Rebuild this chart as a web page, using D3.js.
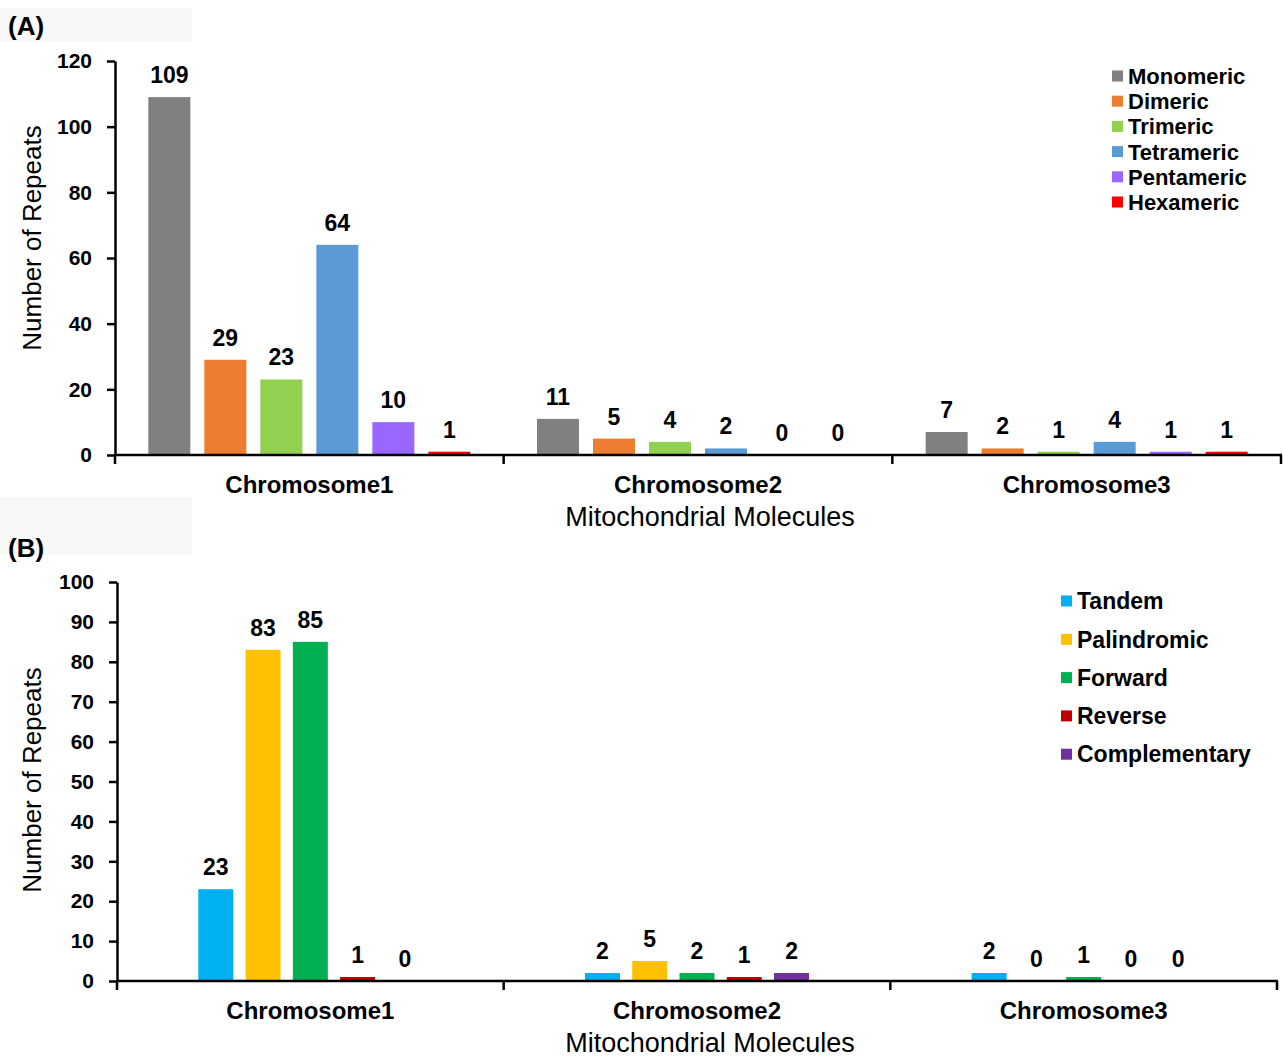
<!DOCTYPE html>
<html lang="en">
  <head>
    <meta charset="utf-8">
    <title>Repeats in mitochondrial molecules</title>
    <style>
      body { margin: 0; background: #fff; }
      svg text { font-family: "Liberation Sans", Arial, sans-serif; fill: #000; }
      text.bold { font-weight: bold; }
    </style>
    <script src="https://cdn.jsdelivr.net/npm/d3@7"></script>
  </head>
  <body>
    <svg id="chart" width="1283" height="1060"></svg>
    <script>

// ############################  data  ############################
var molecules = ["Chromosome1", "Chromosome2", "Chromosome3"];

// panel A: repeat unit size
var unitTypes  = ["Monomeric", "Dimeric", "Trimeric", "Tetrameric", "Pentameric", "Hexameric"];
var unitColors = ["#808080", "#ed7d31", "#92d050", "#5b9bd5", "#9966ff", "#ff0000"];
var unitCounts = [
  [109, 29, 23, 64, 10, 1],   // Chromosome1
  [11, 5, 4, 2, 0, 0],        // Chromosome2
  [7, 2, 1, 4, 1, 1]          // Chromosome3
];
var unitTicks = [0, 20, 40, 60, 80, 100, 120];

// panel B: repeat kind
var repeatTypes  = ["Tandem", "Palindromic", "Forward", "Reverse", "Complementary"];
var repeatColors = ["#00b0f0", "#ffc000", "#00b050", "#c00000", "#7030a0"];
var repeatCounts = [
  [23, 83, 85, 1, 0],
  [2, 5, 2, 1, 2],
  [2, 0, 1, 0, 0]
];
var repeatTicks = [0, 10, 20, 30, 40, 50, 60, 70, 80, 90, 100];
// ################################################################

var svg = d3.select('#chart');

// faint boxes behind the panel letters (as in the scanned figure)
svg.append('rect').attr('x', 0).attr('y', 8).attr('width', 192).attr('height', 34).attr('fill', '#f8f8f8');
svg.append('rect').attr('x', 0).attr('y', 497).attr('width', 192).attr('height', 58).attr('fill', '#f8f8f8');

function drawPanel(p) {
  var g = svg.append('g');

  var x0 = d3.scaleBand().domain(molecules).range([p.left, p.right]);
  var x1 = d3.scaleBand().domain(p.series).range([0, x0.bandwidth()])
             .paddingInner(p.padIn).paddingOuter(p.padOut);
  var y = d3.scaleLinear().domain([0, p.yMax]).range([p.bottom, p.top]);

  g.append('text').attr('class', 'bold').attr('x', 8).attr('y', p.letterY)
    .style('font-size', '26px').text(p.letter);

  // bars + value labels
  var groups = g.selectAll('g.grp').data(molecules).enter().append('g')
      .attr('class', 'grp')
      .attr('transform', function(d) { return 'translate(' + x0(d) + ',0)'; });
  var rows = function(d, i) {
    return p.counts[i].map(function(v, j) { return {key: p.series[j], v: v, c: p.colors[j]}; });
  };
  groups.selectAll('rect').data(rows).enter().append('rect')
      .attr('x', function(d) { return x1(d.key); })
      .attr('width', x1.bandwidth())
      .attr('y', function(d) { return y(d.v); })
      .attr('height', function(d) { return y(0) - y(d.v); })
      .attr('fill', function(d) { return d.c; });
  groups.selectAll('text').data(rows).enter().append('text')
      .attr('class', 'bold')
      .attr('x', function(d) { return x1(d.key) + x1.bandwidth() / 2; })
      .attr('y', function(d) { return y(d.v) - 14; })
      .attr('text-anchor', 'middle')
      .style('font-size', '23px')
      .text(function(d) { return d.v; });

  // y axis
  var ya = g.append('g').attr('transform', 'translate(' + p.left + ',0)')
      .call(d3.axisLeft(y).tickValues(p.ticks).tickSize(8).tickSizeOuter(0).tickPadding(15))
      .attr('font-size', null).attr('font-family', null);
  ya.select('.domain').attr('stroke', '#000').attr('stroke-width', 2.5);
  ya.selectAll('.tick line').attr('stroke', '#000').attr('stroke-width', 2.5);
  ya.selectAll('.tick text').attr('class', 'bold').style('font-size', '21px');

  // x axis: ticks between the categories
  var edges = molecules.map(function(d) { return x0(d); }).concat([p.right]);
  g.append('line').attr('x1', p.left - 1).attr('x2', p.right + 1)
    .attr('y1', y(0)).attr('y2', y(0)).attr('stroke', '#000').attr('stroke-width', 2.5);
  g.selectAll('line.xtick').data(edges).enter().append('line')
    .attr('class', 'xtick')
    .attr('x1', function(d) { return d; }).attr('x2', function(d) { return d; })
    .attr('y1', y(0)).attr('y2', y(0) + 9)
    .attr('stroke', '#000').attr('stroke-width', 2.5);
  g.selectAll('text.cat').data(molecules).enter().append('text')
    .attr('class', 'bold')
    .attr('x', function(d) { return x0(d) + x0.bandwidth() / 2; })
    .attr('y', y(0) + 38)
    .attr('text-anchor', 'middle')
    .style('font-size', '24px')
    .text(function(d) { return d; });

  // axis titles
  g.append('text').attr('x', 710).attr('y', y(0) + 71)
    .attr('text-anchor', 'middle').style('font-size', '27px')
    .text('Mitochondrial Molecules');
  g.append('text')
    .attr('transform', 'translate(32,' + p.titleY + ') rotate(-90)')
    .attr('text-anchor', 'middle').attr('dominant-baseline', 'central')
    .style('font-size', '26px')
    .text('Number of Repeats');

  // legend
  var lg = g.selectAll('g.leg').data(p.series).enter().append('g')
      .attr('transform', function(d, i) { return 'translate(' + p.legX + ',' + (p.legY + i * p.legStep) + ')'; });
  lg.append('rect').attr('x', 0).attr('y', -5.5).attr('width', 11).attr('height', 11)
    .attr('fill', function(d, i) { return p.colors[i]; });
  lg.append('text').attr('class', 'bold').attr('x', 16).attr('dy', '0.36em')
    .style('font-size', p.legFont).text(function(d) { return d; });
}

drawPanel({
  letter: '(A)', letterY: 35,
  series: unitTypes, colors: unitColors, counts: unitCounts,
  ticks: unitTicks, yMax: 120,
  left: 115, right: 1281, top: 61, bottom: 455,
  padIn: 0.25, padOut: 0.595,
  titleY: 238,
  legX: 1112, legY: 76, legStep: 25.2, legFont: '22px'
});

drawPanel({
  letter: '(B)', letterY: 557,
  series: repeatTypes, colors: repeatColors, counts: repeatCounts,
  ticks: repeatTicks, yMax: 100,
  left: 117, right: 1277, top: 582, bottom: 981,
  padIn: 0.26, padOut: 1.72,
  titleY: 780,
  legX: 1061, legY: 601, legStep: 38.3, legFont: '23px'
});
    </script>
  </body>
</html>
